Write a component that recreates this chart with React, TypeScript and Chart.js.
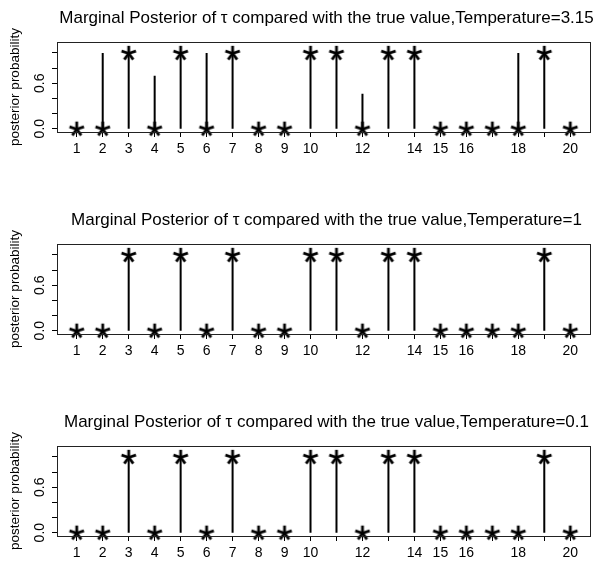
import React, { useEffect, useRef } from 'react';
import { Chart, registerables } from 'chart.js';

Chart.register(...registerables);

const indices = [1, 2, 3, 4, 5, 6, 7, 8, 9, 10, 11, 12, 13, 14, 15, 16, 17, 18, 19, 20];
const trueValues = [0, 0, 1, 0, 1, 0, 1, 0, 0, 1, 1, 0, 1, 1, 0, 0, 0, 0, 1, 0];
const posteriorT315 = [0, 1, 1, 0.7, 1, 1, 1, 0, 0, 1, 1, 0.46, 1, 1, 0, 0, 0, 1, 1, 0];
const posteriorT1 = [0, 0, 1, 0, 1, 0, 1, 0, 0, 1, 1, 0, 1, 1, 0, 0, 0, 0, 1, 0];
const posteriorT01 = [0, 0, 1, 0, 1, 0, 1, 0, 0, 1, 1, 0, 1, 1, 0, 0, 0, 0, 1, 0];
const temperatures = ['3.15', '1', '0.1'];
const xTickLabels = ['1', '2', '3', '4', '5', '6', '7', '8', '9', '10', '', '12', '', '14', '15', '16', '', '18', '', '20'];
const yTickValues = [0, 0.2, 0.4, 0.6, 0.8, 1.0];
const yTickLabels = ['0.0', '', '', '0.6', '', ''];
const yAxisTitle = 'posterior probability';

const FONT = '"Liberation Sans", Arial, Helvetica, sans-serif';

function makeAsterisk(): HTMLCanvasElement {
  const c = document.createElement('canvas');
  c.width = 20;
  c.height = 20;
  const ctx = c.getContext('2d')!;
  ctx.strokeStyle = '#000';
  ctx.lineWidth = 2.8;
  ctx.lineCap = 'butt';
  const cx = 10, cy = 10.5, r = 7.6;
  for (let k = 0; k < 5; k++) {
    const a = -Math.PI / 2 + (k * 2 * Math.PI) / 5;
    ctx.beginPath();
    ctx.moveTo(cx, cy);
    ctx.lineTo(cx + r * Math.cos(a), cy + r * Math.sin(a));
    ctx.stroke();
  }
  return c;
}

// histogram-like ("type h") segments: from 0 up to each value, separated by gaps
function spikes(values: number[]) {
  const pts: { x: number; y: number | null }[] = [];
  indices.forEach((x, i) => {
    pts.push({ x, y: 0 });
    pts.push({ x, y: values[i] });
    pts.push({ x, y: null });
  });
  return pts;
}

function Panel({ values, temp, top }: { values: number[]; temp: string; top: number }) {
  const ref = useRef<HTMLCanvasElement>(null);
  useEffect(() => {
    const star = makeAsterisk();
    const decor = {
      id: 'decor',
      afterDraw(chart: any) {
        const { ctx, chartArea } = chart;
        const yScale = chart.scales.y;
        ctx.save();
        // frame
        ctx.strokeStyle = '#222';
        ctx.lineWidth = 1;
        ctx.strokeRect(
          Math.round(chartArea.left) + 0.5,
          Math.round(chartArea.top) + 0.5,
          Math.round(chartArea.right - chartArea.left),
          Math.round(chartArea.bottom - chartArea.top)
        );
        // title
        ctx.fillStyle = '#000';
        ctx.font = `17px ${FONT}`;
        ctx.textAlign = 'center';
        ctx.textBaseline = 'alphabetic';
        ctx.fillText(
          `Marginal Posterior of \u03c4 compared with the true value,Temperature=${temp}`,
          (chartArea.left + chartArea.right) / 2 + 3,
          23
        );
        // y tick labels (rotated)
        ctx.font = `14px ${FONT}`;
        ctx.textBaseline = 'middle';
        yTickValues.forEach((v, i) => {
          const lab = yTickLabels[i];
          if (!lab) return;
          const y = yScale.getPixelForValue(v);
          ctx.save();
          ctx.translate(40, y);
          ctx.rotate(-Math.PI / 2);
          ctx.fillText(lab, 0, 0);
          ctx.restore();
        });
        // y axis title
        ctx.font = `13.5px ${FONT}`;
        ctx.save();
        ctx.translate(15, (chartArea.top + chartArea.bottom) / 2);
        ctx.rotate(-Math.PI / 2);
        ctx.fillText(yAxisTitle, 0, 0);
        ctx.restore();
        ctx.restore();
      },
    };
    const chart = new Chart(ref.current!, {
      type: 'scatter',
      data: {
        datasets: [
          {
            type: 'line',
            data: spikes(values) as any,
            borderColor: '#000',
            borderWidth: 2,
            pointRadius: 0,
            spanGaps: false,
            fill: false,
            order: 2,
          },
          {
            type: 'scatter',
            data: indices.map((x, i) => ({ x, y: trueValues[i] })),
            pointStyle: star as any,
            pointRadius: 8,
            clip: false as any,
            order: 1,
          },
        ],
      },
      plugins: [decor],
      options: {
        animation: false,
        responsive: false,
        devicePixelRatio: 1,
        layout: { padding: { top: 42, right: 10, left: 0, bottom: 0 } },
        plugins: { legend: { display: false }, tooltip: { enabled: false }, title: { display: false } },
        scales: {
          x: {
            type: 'linear',
            min: 0.24,
            max: 20.76,
            offset: false,
            afterBuildTicks: (s: any) => {
              s.ticks = indices.map((v) => ({ value: v }));
            },
            afterFit: (s: any) => {
              s.height = 32;
            },
            grid: { display: true, offset: false, drawOnChartArea: false, drawTicks: true, tickLength: 5, color: '#000', lineWidth: 1 },
            border: { display: false },
            ticks: {
              autoSkip: false,
              maxRotation: 0,
              minRotation: 0,
              padding: 4,
              color: '#000',
              font: { family: FONT, size: 14 },
              callback: (_v: any, i: number) => xTickLabels[i],
            },
          },
          y: {
            type: 'linear',
            min: -0.044,
            max: 1.144,
            afterBuildTicks: (s: any) => {
              s.ticks = yTickValues.map((v) => ({ value: v }));
            },
            afterFit: (s: any) => {
              s.width = 57;
            },
            grid: { display: true, offset: false, drawOnChartArea: false, drawTicks: true, tickLength: 5, color: '#000', lineWidth: 1 },
            border: { display: false },
            ticks: { display: false },
          },
        },
      },
    } as any);
    return () => chart.destroy();
  }, [values, temp]);
  return (
    <canvas
      ref={ref}
      width={600}
      height={164}
      style={{ position: 'absolute', left: 0, top, width: 600, height: 164, display: 'block' }}
    />
  );
}

export default function App() {
  const series = [posteriorT315, posteriorT1, posteriorT01];
  const tops = [0, 202, 404];
  return (
    <div style={{ position: 'fixed', left: 0, top: 0, width: 600, height: 568, background: '#fff', overflow: 'hidden' }}>
      {series.map((s, i) => (
        <Panel key={i} values={s} temp={temperatures[i]} top={tops[i]} />
      ))}
    </div>
  );
}
